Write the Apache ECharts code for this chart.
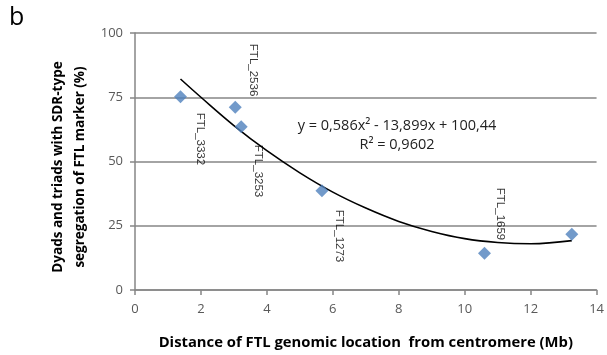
<!DOCTYPE html>
<html>
<head>
<meta charset="utf-8">
<script src="https://cdn.jsdelivr.net/npm/echarts@6/dist/echarts.min.js"></script>
<style>
  html, body { margin: 0; padding: 0; background: #fff; }
  #chart { width: 607px; height: 355px; }
</style>
</head>
<body>
<div id="chart"></div>
<script>
// marker positions
const distMb = [1.38, 3.04, 3.22, 5.67, 10.6, 13.25];
const sdrPct = [75.2, 71.1, 63.5, 38.6, 14.3, 21.7];
const markerNames = ['FTL_3332', 'FTL_2536', 'FTL_3253', 'FTL_1273', 'FTL_1659', ''];

// polynomial trendline as drawn
const trendX = [1.38, 2, 3, 4, 5, 6, 7, 8, 9, 10, 11, 12, 13.25];
const trendY = [82.1, 75.0, 64.0, 54.2, 45.6, 38.1, 31.9, 26.7, 22.8, 20.0, 18.5, 18.0, 19.2];

const xTicks = [0, 2, 4, 6, 8, 10, 12, 14];
const yTicks = [0, 25, 50, 75, 100];

const eqLine1 = 'y = 0,586x² - 13,899x + 100,44';
const eqLine2 = 'R² = 0,9602';
const yTitle = 'Dyads and triads with SDR-type\nsegregation of FTL marker (%)';

// label placement per marker: [dx, dy, align]
const labelPlace = [
  [20, 16, 'left'],
  [18, -11, 'right'],
  [17, 18, 'left'],
  [17, 19, 'left'],
  [16, -13, 'right'],
  [0, 0, 'left']
];

const SYM = 13;
const font = '"Open Sans", "Noto Sans", sans-serif';

let pts = distMb.map((x, i) => {
  let p = labelPlace[i];
  return {
    value: [x, sdrPct[i]],
    name: markerNames[i],
    label: {
      show: markerNames[i] !== '',
      position: [SYM / 2 + p[0], SYM / 2 + p[1]],
      align: p[2],
      verticalAlign: 'middle',
      rotate: -90
    }
  };
});

let chart = echarts.init(document.getElementById('chart'));
chart.setOption({
  animation: false,
  backgroundColor: '#fff',
  grid: { left: 135, right: 8, top: 33, bottom: 65 },
  xAxis: {
    type: 'value',
    min: xTicks[0], max: xTicks[xTicks.length - 1], interval: 2,
    name: 'Distance of FTL genomic location  from centromere (Mb)',
    nameLocation: 'middle', nameGap: 45,
    nameTextStyle: { fontFamily: font, fontWeight: 'bold', fontSize: 14.8, color: '#000' },
    axisLine: { lineStyle: { color: '#868686', width: 1.5 } },
    axisTick: { show: true, length: 5, lineStyle: { color: '#868686', width: 1.5 } },
    axisLabel: { fontFamily: font, fontSize: 13, color: '#595959', margin: 13 },
    splitLine: { show: false }
  },
  yAxis: {
    type: 'value',
    min: yTicks[0], max: yTicks[yTicks.length - 1], interval: 25,
    axisLine: { show: true, lineStyle: { color: '#868686', width: 1.5 } },
    axisTick: { show: true, length: 5, lineStyle: { color: '#868686', width: 1.5 } },
    axisLabel: { fontFamily: font, fontSize: 13, color: '#595959', margin: 12 },
    splitLine: { lineStyle: { color: '#868686', width: 1.5 } }
  },
  series: [
    {
      type: 'line',
      data: trendX.map((x, i) => [x, trendY[i]]),
      smooth: 0.4,
      showSymbol: false,
      symbol: 'none',
      lineStyle: { color: '#000', width: 1.6 },
      z: 3
    },
    {
      type: 'scatter',
      data: pts,
      symbol: 'diamond',
      symbolSize: SYM,
      itemStyle: { color: '#4F81BD' },
      label: {
        formatter: '{b}',
        fontFamily: '"Liberation Sans Narrow", "Liberation Sans", sans-serif',
        fontSize: 11.5,
        color: '#000'
      },
      z: 4
    }
  ],
  graphic: [
    { type: 'text', left: 9, top: 5, style: { text: 'b', font: '25px ' + font, fill: '#000' } },
    {
      type: 'text', x: 69, y: 167, rotation: Math.PI / 2,
      style: { text: yTitle, font: 'bold 13.5px ' + font, fill: '#000', textAlign: 'center', textVerticalAlign: 'middle', lineHeight: 22 }
    },
    { type: 'text', x: 397, y: 126, style: { text: eqLine1, font: '14.5px ' + font, fill: '#222', textAlign: 'center', textVerticalAlign: 'middle' } },
    { type: 'text', x: 397, y: 145, style: { text: eqLine2, font: '14.5px ' + font, fill: '#222', textAlign: 'center', textVerticalAlign: 'middle' } }
  ]
});
</script>
</body>
</html>
